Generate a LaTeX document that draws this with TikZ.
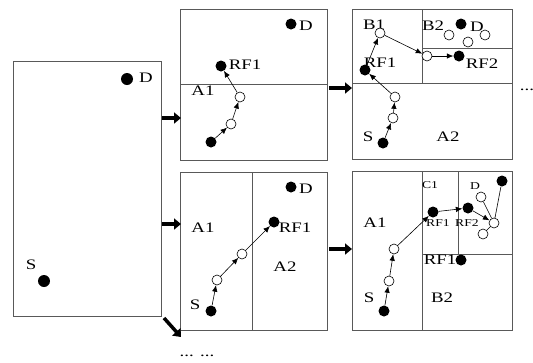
\documentclass[tikz,border=0pt]{standalone}
\usepackage{fontspec}
\setmainfont[FakeStretch=1.3]{Liberation Serif}
\usetikzlibrary{arrows.meta}
\begin{document}
\begin{tikzpicture}[x=1pt,y=-1pt,
 box/.style={draw=black!65, line width=1pt},
 fdot/.style={circle, fill=black, inner sep=0pt, minimum size=11pt},
 bdot/.style={circle, fill=black, inner sep=0pt, minimum size=12pt},
 odot/.style={circle, draw=black, fill=white, line width=0.6pt, inner sep=0pt, minimum size=10pt},
 lbl/.style={inner sep=0pt, font=\fontsize{14.5}{16}\selectfont},
 slbl/.style={inner sep=0pt, font=\fontsize{10.5}{12}\selectfont},
 arr/.style={line width=0.6pt, -{Latex[length=6.5pt,width=5.5pt]}},
 ln/.style={line width=0.6pt},
 big/.style={line width=3.5pt, -{Triangle[length=7pt,width=11pt]}}]

\useasboundingbox (0,0) rectangle (533,362);

% ---------- Panel 0 ----------
\draw[box] (13,61) rectangle (161,316);
\node[bdot] (d0) at (127,79) {};
\node[lbl] (d0l) at (146,78) {D};
\node[bdot] (s0) at (44,281) {};
\node[lbl] (s0l) at (31,265) {S};

% ---------- Panel 1 ----------
\draw[box] (180,9) rectangle (327,160);
\draw[box] (180,84) -- (327,84);
\node[fdot] (d1) at (291,24) {};
\node[lbl] (d1l) at (306,26) {D};
\node[fdot] (rf1) at (221,66) {};
\node[lbl] (rf1l) at (245,65) {RF1};
\node[lbl] (a1l) at (203,91) {A1};
\node[odot] (c1b) at (240,97) {};
\node[odot] (c1a) at (231,124) {};
\node[fdot] (s1) at (211,142) {};
\draw[arr] (s1) -- (c1a);
\draw[arr] (c1a) -- (c1b);
\draw[arr] (c1b) -- (rf1);

% ---------- Panel 2 ----------
\draw[box] (352,9) rectangle (512,159);
\draw[box] (352,83) -- (512,83);
\draw[box] (422,9) -- (422,83);
\draw[box] (422,48) -- (512,48);
\node[lbl] (b1l) at (374,25) {B1};
\node[lbl] (b2l) at (433,26) {B2};
\node[fdot] (d2) at (461,24) {};
\node[lbl] (d2l) at (477,27) {D};
\node[odot] (e1) at (449,35) {};
\node[odot] (e2) at (468,42) {};
\node[odot] (e3) at (485,35) {};
\node[odot] (b1c) at (380,33) {};
\node[odot] (c2x) at (427,56) {};
\node[fdot] (rf2) at (459,56) {};
\node[lbl] (rf2l) at (482,64) {RF2};
\node[fdot] (rf1b) at (365,70) {};
\node[lbl] (rf1bl) at (380,63) {RF1};
\node[odot] (c2a) at (395,97) {};
\node[odot] (c2b) at (393,118) {};
\node[fdot] (s2) at (383,143) {};
\node[lbl] (s2l) at (368,137) {S};
\node[lbl] (a2l) at (448,137) {A2};
\draw[arr] (s2) -- (c2b);
\draw[arr] (c2b) -- (c2a);
\draw[arr] (c2a) -- (rf1b);
\draw[arr] (rf1b) -- (b1c);
\draw[arr] (b1c) -- (c2x);
\draw[arr] (c2x) -- (rf2);
\node[lbl] (dots1) at (527,90) {...};

% ---------- Panel 3 ----------
\draw[box] (180,172) rectangle (327,330);
\draw[box] (252,172) -- (252,330);
\node[fdot] (d3) at (291,187) {};
\node[lbl] (d3l) at (306,189) {D};
\node[lbl] (a1l3) at (203,228) {A1};
\node[lbl] (rf3l) at (295,228) {RF1};
\node[fdot] (rf3) at (274,222) {};
\node[lbl] (a2l3) at (285,267) {A2};
\node[odot] (c3b) at (242,254) {};
\node[odot] (c3a) at (217,280) {};
\node[fdot] (s3) at (211,311) {};
\node[lbl] (s3l) at (195,305) {S};
\draw[arr] (s3) -- (c3a);
\draw[arr] (c3a) -- (c3b);
\draw[arr] (c3b) -- (rf3);
\node[lbl] (dots2) at (197,356) {... ...};

% ---------- Panel 4 ----------
\draw[box] (352,171) rectangle (512,330);
\draw[box] (422,171) -- (422,330);
\draw[box] (458,171) -- (458,254);
\draw[box] (422,254) -- (512,254);
\node[slbl] (c1l) at (430,185) {C1};
\node[slbl] (d4l) at (475,186) {D};
\node[lbl] (a1l4) at (375,223) {A1};
\node[lbl] (s4l) at (369,298) {S};
\node[lbl] (b2l4) at (442,298) {B2};
\node[lbl] (rf1l4b) at (440,260) {RF1};
\node[fdot] (rf4c) at (461,260) {};
\node[slbl] (rf4l) at (438,223) {RF1};
\node[slbl] (rf4bl) at (467,223) {RF2};
\node[fdot] (rf4) at (433,212) {};
\node[fdot] (rf4b) at (468,208) {};
\node[fdot] (top4) at (502,181) {};
\node[odot] (g1) at (481,197) {};
\node[odot] (g2) at (494,223) {};
\node[odot] (g3) at (483,234) {};
\draw[ln] (top4) -- (g2);
\draw[ln] (g1) -- (g2);
\draw[ln] (g3) -- (g2);
\node[odot] (c4b) at (394,249) {};
\node[odot] (c4a) at (389,281) {};
\node[fdot] (s4) at (384,311) {};
\draw[arr] (s4) -- (c4a);
\draw[arr] (c4a) -- (c4b);
\draw[arr] (c4b) -- (rf4);
\draw[arr] (rf4) -- (rf4b);
\draw[arr] (rf4b) -- (g2);

% ---------- Thick arrows ----------
\coordinate (t1s) at (162,118); \coordinate (t1e) at (181,118);
\coordinate (t2s) at (162,224); \coordinate (t2e) at (181,224);
\coordinate (t3s) at (164,318); \coordinate (t3e) at (181,337);
\coordinate (t4s) at (329,88);  \coordinate (t4e) at (352,88);
\coordinate (t5s) at (329,249); \coordinate (t5e) at (352,249);
\draw[big] (t1s) -- (t1e);
\draw[big] (t2s) -- (t2e);
\draw[big] (t3s) -- (t3e);
\draw[big] (t4s) -- (t4e);
\draw[big] (t5s) -- (t5e);
\end{tikzpicture}
\end{document}
